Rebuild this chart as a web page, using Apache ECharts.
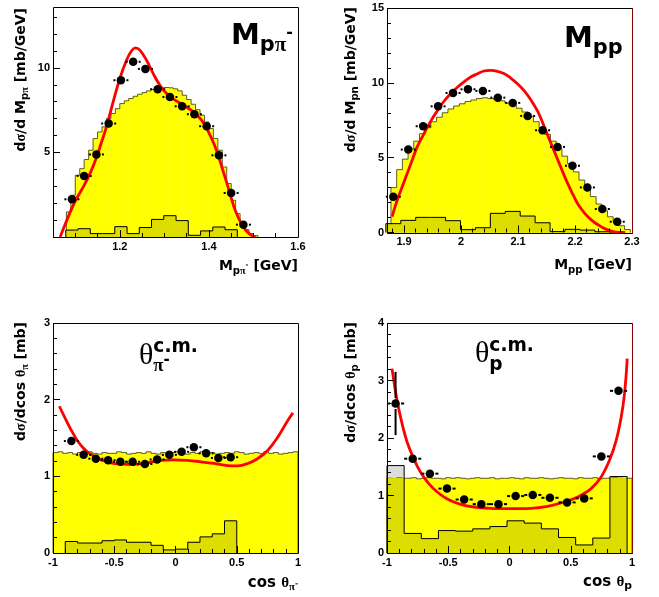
<!DOCTYPE html>
<html><head><meta charset="utf-8">
<script src="https://cdn.jsdelivr.net/npm/echarts@6/dist/echarts.min.js"></script>
<style>html,body{margin:0;padding:0;background:#fff}#c{width:659px;height:597px}</style>
</head><body><div id="c"></div>
<script>
// ---------------- DATA ----------------
// Panel 1: M_p pi-
const p1BinLo = 1.0787, p1BinW = 0.0275;
const p1Data = [2.23, 3.61, 4.88, 6.71, 9.27, 10.36, 9.94, 8.74, 8.28, 7.73, 7.26, 6.55, 4.83, 2.60, 0.73];
const p1Bkg = [0.41, 0.49, 0.20, 0.20, 0.61, 0.20, 0.56, 1.04, 1.26, 0.97, 0.10, 0.36, 0.59, 0.43];
const p1SimLo = 1.08, p1SimW = 0.01;
const p1Sim = [1.48, 2.47, 3.65, 4.04, 4.58, 5.13, 5.82, 6.21, 6.51, 7.0, 7.30, 7.59, 7.89, 8.05, 8.19, 8.32, 8.44, 8.54, 8.64, 8.72, 8.78, 8.82, 8.84, 8.82, 8.76, 8.64, 8.38, 8.13, 7.85, 7.53, 7.2, 6.8, 6.41, 5.82, 5.13, 4.14, 3.16, 2.17, 1.38, 0.79, 0.43, 0.2, 0.08];
const p1CurveX = [1.066,1.081,1.092,1.103,1.118,1.133,1.148,1.159,1.170,1.185,1.200,1.215,1.226,1.235,1.245,1.260,1.275,1.290,1.305,1.324,1.343,1.365,1.384,1.399,1.414,1.429,1.444,1.459,1.475,1.490,1.505];
const p1CurveY = [0,0.99,1.68,2.27,2.96,3.75,4.73,5.62,6.51,7.99,9.37,10.45,11.0,11.18,11.05,10.45,9.66,8.97,8.48,8.09,7.79,7.40,6.9,6.21,5.33,4.14,2.86,1.58,0.69,0.2,0];

// Panel 2: M_pp
const p2BinLo = 1.868, p2BinW = 0.0262;
const p2Data = [2.39, 5.54, 7.10, 8.43, 9.32, 9.57, 9.46, 9.01, 8.66, 7.79, 6.83, 5.72, 4.46, 3.01, 1.57, 0.72];
const p2Bkg = [0.59, 0.81, 1.01, 1.01, 0.79, 0.19, 0.32, 1.28, 1.41, 1.10, 0.65, 0.06, 0.21, 0.16, 0.05, 0.03];
const p2SimLo = 1.877, p2SimW = 0.01;
const p2Sim = [3.0, 4.2, 4.9, 5.6, 6.1, 6.6, 7.0, 7.4, 7.7, 8.0, 8.25, 8.45, 8.6, 8.75, 8.85, 8.95, 9.0, 8.95, 8.9, 8.8, 8.65, 8.5, 8.3, 8.05, 7.75, 7.4, 7.0, 6.55, 6.1, 5.6, 5.1, 4.6, 4.05, 3.5, 2.95, 2.4, 1.9, 1.45, 1.05, 0.7, 0.45, 0.2];
const p2CurveX = [1.879,1.888,1.900,1.912,1.923,1.935,1.947,1.959,1.970,1.982,1.994,2.005,2.017,2.029,2.040,2.052,2.064,2.076,2.087,2.099,2.111,2.123,2.135,2.146,2.158,2.170,2.182,2.194,2.205,2.217,2.229,2.241,2.252,2.264,2.276,2.288];
const p2CurveY = [1.06,2.17,3.39,4.61,5.72,6.61,7.46,8.17,8.77,9.28,9.72,10.06,10.39,10.61,10.79,10.83,10.77,10.61,10.32,9.94,9.46,8.83,8.06,7.06,5.94,4.83,3.72,2.72,1.9,1.28,0.83,0.5,0.26,0.1,0.01,0];

// Panel 3: cos theta_pi
const p3BinLo = -0.9, p3BinW = 0.1;
const p3Data = [1.46, 1.28, 1.23, 1.21, 1.19, 1.19, 1.16, 1.22, 1.28, 1.32, 1.38, 1.30, 1.24, 1.25];
const p3Bkg = [0.15, 0.13, 0.13, 0.16, 0.17, 0.14, 0.14, 0.10, 0.04, 0.05, 0.14, 0.21, 0.25, 0.42];
const p3SimLo = -1, p3SimW = 0.04;
const p3Sim = [1.31,1.32,1.30,1.31,1.29,1.31,1.30,1.32,1.30,1.29,1.31,1.30,1.30,1.32,1.31,1.29,1.30,1.31,1.30,1.32,1.30,1.29,1.31,1.30,1.31,1.32,1.30,1.29,1.31,1.30,1.32,1.30,1.31,1.29,1.30,1.31,1.30,1.32,1.31,1.29,1.30,1.31,1.30,1.32,1.30,1.31,1.29,1.30,1.31,1.32];
const p3CurveX = [-0.948,-0.913,-0.858,-0.803,-0.749,-0.694,-0.612,-0.530,-0.448,-0.339,-0.230,-0.120,-0.011,0.098,0.207,0.316,0.426,0.508,0.590,0.672,0.754,0.836,0.918,0.959];
const p3CurveY = [1.914,1.797,1.623,1.471,1.363,1.289,1.22,1.176,1.159,1.155,1.176,1.207,1.215,1.207,1.189,1.168,1.141,1.137,1.168,1.233,1.341,1.515,1.732,1.827];

// Panel 4: cos theta_p
const p4BinLo = -1, p4BinW = 0.14;
const p4Data = [2.60, 1.64, 1.38, 1.12, 0.93, 0.85, 0.85, 0.99, 1.01, 0.96, 0.88, 0.95, 1.68, 2.82];
const p4ErrY = [0.55, 0.06, 0.05, 0.04, 0.03, 0.03, 0.03, 0.03, 0.03, 0.03, 0.03, 0.04, 0.06, 0.09];
const p4Bkg = [1.52, 0.34, 0.25, 0.39, 0.38, 0.42, 0.46, 0.56, 0.52, 0.42, 0.27, 0.14, 0.26, 1.33];
const p4SimLo = -1, p4SimW = 0.04;
const p4Sim = [1.30,1.29,1.31,1.30,1.30,1.31,1.29,1.30,1.31,1.30,1.30,1.29,1.31,1.30,1.31,1.30,1.29,1.30,1.31,1.30,1.30,1.31,1.29,1.30,1.30,1.31,1.30,1.29,1.31,1.30,1.30,1.31,1.30,1.29,1.30,1.31,1.30,1.30,1.29,1.31,1.30,1.30,1.31,1.29,1.30,1.30,1.31,1.30,1.29,1.30];
const p4CurveX = [-0.959,-0.918,-0.877,-0.836,-0.782,-0.727,-0.659,-0.590,-0.508,-0.399,-0.290,-0.153,0.011,0.175,0.311,0.448,0.557,0.666,0.748,0.816,0.871,0.912,0.939,0.961];
const p4CurveY = [3.206,2.655,2.249,1.93,1.641,1.409,1.206,1.061,0.939,0.846,0.80,0.777,0.771,0.777,0.812,0.887,0.974,1.119,1.322,1.612,1.959,2.365,2.771,3.38];

// Tick labels
const p1XLabels = [1.2, 1.4, 1.6], p1YLabels = [5, 10];
const p2XLabels = [1.9, 2, 2.1, 2.2, 2.3], p2YLabels = [0, 5, 10, 15];
const p3XLabels = [-1, -0.5, 0, 0.5, 1], p3YLabels = [0, 1, 2, 3];
const p4XLabels = [-1, -0.5, 0, 0.5, 1], p4YLabels = [0, 1, 2, 3, 4];

// ---------------- LAYOUT ----------------
const grids = [
  {left: 53, top: 7, width: 245, height: 230},
  {left: 387, top: 8, width: 245, height: 224.5},
  {left: 53, top: 323, width: 245, height: 230},
  {left: 387, top: 323, width: 245, height: 230}
];
function steps(a, b, st) { const o = []; const n = Math.round((b - a) / st); for (let i = 0; i <= n; i++) o.push(+(a + i * st).toFixed(4)); return o; }
const axesCfg = [
  {x: {min: 1.05, max: 1.6, major: p1XLabels, minor: steps(1.05, 1.6, 0.05), labels: p1XLabels},
   y: {min: 0, max: 13.6, major: p1YLabels, minor: steps(0, 13, 1), labels: p1YLabels}},
  {x: {min: 1.87, max: 2.3, major: p2XLabels, minor: steps(1.88, 2.3, 0.02), labels: p2XLabels},
   y: {min: 0, max: 15, major: p2YLabels, minor: steps(0, 15, 1), labels: p2YLabels}},
  {x: {min: -1, max: 1, major: p3XLabels, minor: steps(-1, 1, 0.1), labels: p3XLabels},
   y: {min: 0, max: 3, major: p3YLabels, minor: steps(0, 3, 0.2), labels: p3YLabels}},
  {x: {min: -1, max: 1, major: p4XLabels, minor: steps(-1, 1, 0.1), labels: p4XLabels},
   y: {min: 0, max: 4, major: p4YLabels, minor: steps(0, 4, 0.2), labels: p4YLabels}}
];
const LBL = {color: '#000', fontSize: 11, fontWeight: 'bold', fontFamily: '"Liberation Sans", Arial, sans-serif'};
const NOLINE = {show: false, onZero: false};
const xAxes = [], yAxes = [];
axesCfg.forEach((c, g) => {
  xAxes.push({gridIndex: g, type: 'value', min: c.x.min, max: c.x.max, position: 'bottom', z: 10,
    axisLine: NOLINE, splitLine: {show: false},
    axisTick: {show: true, inside: true, length: 7, customValues: c.x.major, lineStyle: {color: '#000', width: 1}},
    axisLabel: Object.assign({show: true, customValues: c.x.labels, margin: 4, formatter: v => String(v)}, LBL)});
  xAxes.push({gridIndex: g, type: 'value', min: c.x.min, max: c.x.max, position: 'bottom', z: 10,
    axisLine: NOLINE, splitLine: {show: false},
    axisTick: {show: true, inside: true, length: 4, customValues: c.x.minor, lineStyle: {color: '#000', width: 1}},
    axisLabel: {show: false, customValues: c.x.minor}});
  yAxes.push({gridIndex: g, type: 'value', min: c.y.min, max: c.y.max, position: 'left', z: 10,
    axisLine: NOLINE, splitLine: {show: false},
    axisTick: {show: true, inside: true, length: 7, customValues: c.y.major, lineStyle: {color: '#000', width: 1}},
    axisLabel: Object.assign({show: true, customValues: c.y.labels, margin: 3, formatter: v => String(v)}, LBL)});
  yAxes.push({gridIndex: g, type: 'value', min: c.y.min, max: c.y.max, position: 'left', z: 10,
    axisLine: NOLINE, splitLine: {show: false},
    axisTick: {show: true, inside: true, length: 4, customValues: c.y.minor, lineStyle: {color: '#000', width: 1}},
    axisLabel: {show: false, customValues: c.y.minor}});
});

// ---------------- SERIES HELPERS ----------------
function binItems(lo, w, vals, cap) {
  return vals.map((v, i) => [lo + i * w, lo + (i + 1) * w, Math.min(v, cap), i ? Math.min(vals[i - 1], cap) : 0, i === vals.length - 1 ? 1 : 0]);
}
function histFill(g, lo, w, vals, color, z, cap) {
  return {type: 'custom', xAxisIndex: 2 * g, yAxisIndex: 2 * g, z: z, silent: true,
    data: binItems(lo, w, vals, cap === undefined ? Infinity : cap),
    renderItem: (p, api) => {
      const a = api.coord([api.value(0), api.value(2)]), b = api.coord([api.value(1), 0]);
      return {type: 'rect', shape: {x: a[0], y: a[1], width: b[0] - a[0], height: b[1] - a[1]},
        style: {fill: color, stroke: color, lineWidth: 0.6}};
    }};
}
function histLine(g, lo, w, vals, color, lw, z) {
  return {type: 'custom', xAxisIndex: 2 * g, yAxisIndex: 2 * g, z: z, silent: true,
    data: binItems(lo, w, vals, Infinity),
    renderItem: (p, api) => {
      const x0 = api.value(0), x1 = api.value(1), v = api.value(2), pv = api.value(3);
      const pts = [api.coord([x0, pv]), api.coord([x0, v]), api.coord([x1, v])];
      if (api.value(4)) pts.push(api.coord([x1, 0]));
      return {type: 'polyline', shape: {points: pts}, style: {stroke: color, lineWidth: lw, fill: null}};
    }};
}
function curve(g, xs, ys) {
  return {type: 'line', xAxisIndex: 2 * g, yAxisIndex: 2 * g, z: 5, silent: true, smooth: 0.4,
    showSymbol: false, symbol: 'none', data: xs.map((x, i) => [x, ys[i]]),
    lineStyle: {color: '#ff0000', width: 2.8}};
}
function errBars(g, lo, w, vals, ey) {
  return {type: 'custom', xAxisIndex: 2 * g, yAxisIndex: 2 * g, z: 6, silent: true,
    data: vals.map((v, i) => [lo + (i + 0.5) * w, v, w / 2, ey ? ey[i] : 0]),
    renderItem: (p, api) => {
      const x = api.value(0), y = api.value(1);
      const c = api.coord([x, y]);
      const gap = 5.5;
      const hx = Math.max(api.coord([x + api.value(2), y])[0] - c[0], gap + 2);
      const vy = c[1] - api.coord([x, y + api.value(3)])[1];
      const ch = [];
      const st = {stroke: '#000', lineWidth: 2};
      ch.push({type: 'line', shape: {x1: c[0] - hx, y1: c[1], x2: c[0] - gap, y2: c[1]}, style: st});
      ch.push({type: 'line', shape: {x1: c[0] + gap, y1: c[1], x2: c[0] + hx, y2: c[1]}, style: st});
      if (vy > gap + 1) {
        ch.push({type: 'line', shape: {x1: c[0], y1: c[1] - vy, x2: c[0], y2: c[1] - gap}, style: st});
        ch.push({type: 'line', shape: {x1: c[0], y1: c[1] + gap, x2: c[0], y2: c[1] + vy}, style: st});
      }
      return {type: 'group', children: ch};
    }};
}
function points(g, lo, w, vals) {
  return {type: 'scatter', xAxisIndex: 2 * g, yAxisIndex: 2 * g, z: 7, silent: true,
    symbol: 'circle', symbolSize: 8.5, itemStyle: {color: '#000', opacity: 1, borderWidth: 0},
    data: vals.map((v, i) => [lo + (i + 0.5) * w, v])};
}
const YEL = '#ffff00', OLIVE = '#dddd00', GRAY = '#dcdcdc';
const panels = [
  {simLo: p1SimLo, simW: p1SimW, sim: p1Sim, lo: p1BinLo, w: p1BinW, data: p1Data, bkg: p1Bkg, cx: p1CurveX, cy: p1CurveY},
  {simLo: p2SimLo, simW: p2SimW, sim: p2Sim, lo: p2BinLo, w: p2BinW, data: p2Data, bkg: p2Bkg, cx: p2CurveX, cy: p2CurveY},
  {simLo: p3SimLo, simW: p3SimW, sim: p3Sim, lo: p3BinLo, w: p3BinW, data: p3Data, bkg: p3Bkg, cx: p3CurveX, cy: p3CurveY},
  {simLo: p4SimLo, simW: p4SimW, sim: p4Sim, lo: p4BinLo, w: p4BinW, data: p4Data, bkg: p4Bkg, cx: p4CurveX, cy: p4CurveY, ey: p4ErrY, cap: 1.30, gray: true}
];
const series = [];
panels.forEach((P, g) => {
  if (P.gray) series.push(histFill(g, P.lo, P.w, P.bkg, GRAY, 0.5));
  series.push(histFill(g, P.simLo, P.simW, P.sim, YEL, 1));
  series.push(histLine(g, P.simLo, P.simW, P.sim, '#333', 0.8, 2));
  series.push(histFill(g, P.lo, P.w, P.bkg, OLIVE, 3, P.cap));
  series.push(histLine(g, P.lo, P.w, P.bkg, '#000', 1, 4));
  series.push(curve(g, P.cx, P.cy));
  series.push(errBars(g, P.lo, P.w, P.data, P.ey));
  series.push(points(g, P.lo, P.w, P.data));
});

// ---------------- TEXT ----------------
const mctx = document.createElement('canvas').getContext('2d');
const SANS = '"DejaVu Sans", sans-serif';
const SERIF = '"Liberation Serif", "DejaVu Serif", serif';
function label(o) {
  const base = o.size; let cursor = 0; const items = [];
  o.pieces.forEach(p => {
    const sz = base * (p.s || 1);
    const fam = p.serif ? SERIF : SANS;
    const wt = p.bold === false ? 'normal' : 'bold';
    mctx.font = wt + ' ' + sz + 'px ' + fam;
    const w = mctx.measureText(p.t).width;
    const start = (p.at !== undefined) ? items[p.at].start : cursor;
    items.push({p, sz, fam, wt, start, w});
    cursor = start + w;
  });
  const total = Math.max.apply(null, items.map(it => it.start + it.w));
  const off = o.anchor === 'end' ? -total : 0;
  return {type: 'group', x: o.x, y: o.y, rotation: o.rot || 0, z: 30,
    children: items.map(it => ({type: 'text', x: it.start + off, y: (it.p.dy || 0) * base - 0.35 * it.sz, z: 30,
      style: {text: it.p.t, fontSize: it.sz, fontFamily: it.fam, fontWeight: it.wt, fill: '#000', align: 'left', verticalAlign: 'middle'}}))};
}
const R = Math.PI / 2;
const texts = [
  label({x: 26, y: 8, rot: R, anchor: 'end', size: 14, pieces: [{t: 'd'}, {t: 'σ', serif: true}, {t: '/d M'}, {t: 'p', s: .72, dy: .22}, {t: 'π', s: .72, dy: .22, serif: true}, {t: ' [mb/GeV]'}]}),
  label({x: 356, y: 7, rot: R, anchor: 'end', size: 14, pieces: [{t: 'd'}, {t: 'σ', serif: true}, {t: '/d M'}, {t: 'pn', s: .72, dy: .22}, {t: ' [mb/GeV]'}]}),
  label({x: 26, y: 322, rot: R, anchor: 'end', size: 14, pieces: [{t: 'd'}, {t: 'σ', serif: true}, {t: '/dcos '}, {t: 'θ', serif: true}, {t: 'π', s: .72, dy: .22, serif: true}, {t: ' [mb]'}]}),
  label({x: 356, y: 322, rot: R, anchor: 'end', size: 14, pieces: [{t: 'd'}, {t: 'σ', serif: true}, {t: '/dcos '}, {t: 'θ', serif: true}, {t: 'p', s: .72, dy: .22}, {t: ' [mb]'}]}),
  label({x: 298, y: 271.5, anchor: 'end', size: 14, pieces: [{t: 'M'}, {t: 'p', s: .72, dy: .22}, {t: 'π', s: .72, dy: .22, serif: true}, {t: '-', s: .5, dy: -.25}, {t: ' [GeV]'}]}),
  label({x: 632, y: 270.5, anchor: 'end', size: 14, pieces: [{t: 'M'}, {t: 'pp', s: .72, dy: .22}, {t: ' [GeV]'}]}),
  label({x: 298, y: 588, anchor: 'end', size: 15, pieces: [{t: 'cos '}, {t: 'θ', serif: true}, {t: 'π', s: .72, dy: .22, serif: true}, {t: '-', s: .5, dy: -.1}]}),
  label({x: 632, y: 587, anchor: 'end', size: 15, pieces: [{t: 'cos '}, {t: 'θ', serif: true}, {t: 'p', s: .72, dy: .22}]}),
  label({x: 231, y: 47, size: 29, pieces: [{t: 'M'}, {t: 'p', s: .72, dy: .2}, {t: 'π', s: .72, dy: .2, serif: true}, {t: '-', s: .55, dy: -.3}]}),
  label({x: 564, y: 50, size: 29, pieces: [{t: 'M'}, {t: 'pp', s: .72, dy: .2}]}),
  label({x: 139, y: 366.7, size: 30, pieces: [{t: 'θ', serif: true, bold: false}, {t: 'π', s: .62, dy: .2, serif: true}, {t: '-', s: .5, dy: -.05}, {t: 'c.m.', s: .62, dy: -.42, at: 1}]}),
  label({x: 475, y: 365, size: 30, pieces: [{t: 'θ', serif: true, bold: false}, {t: 'p', s: .62, dy: .22}, {t: 'c.m.', s: .62, dy: -.42, at: 1}]})
];
const frames = grids.map((g, i) => ({type: 'rect', z: 20, silent: true,
  shape: {x: g.left + 0.5, y: Math.round(g.top) + 0.5, width: g.width, height: Math.round(g.top + g.height) - Math.round(g.top)},
  style: {fill: 'none', stroke: '#000', lineWidth: 1}}));
[1, 3].forEach(i => {
  const g = grids[i];
  frames.push({type: 'line', z: 21, silent: true,
    shape: {x1: g.left + g.width + 0.5, y1: Math.round(g.top) + 0.5, x2: g.left + g.width + 0.5, y2: Math.round(g.top + g.height) + 0.5},
    style: {stroke: '#8b0000', lineWidth: 1}});
});

const chart = echarts.init(document.getElementById('c'), null, {renderer: 'canvas', width: 659, height: 597});
chart.setOption({
  backgroundColor: '#fff',
  animation: false,
  grid: grids.map(g => Object.assign({show: false, containLabel: false, outerBoundsMode: 'none'}, g)),
  xAxis: xAxes,
  yAxis: yAxes,
  series: series,
  graphic: {elements: frames.concat(texts)}
});
</script></body></html>
